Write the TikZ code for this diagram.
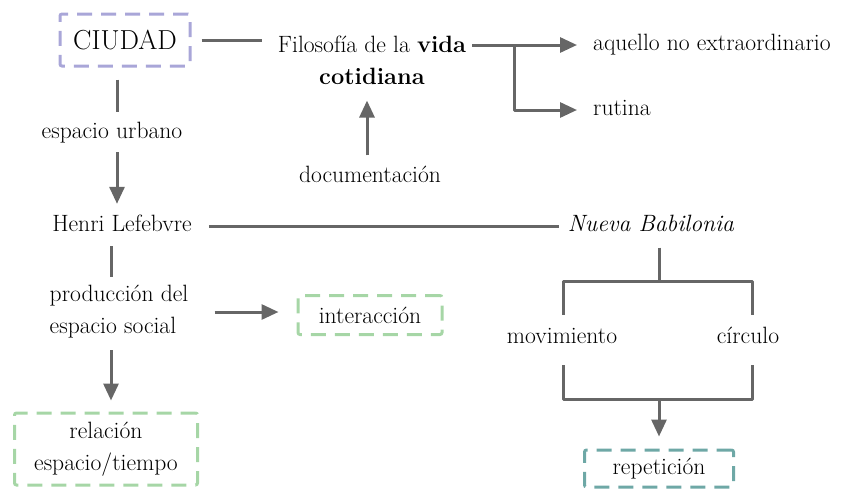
\documentclass[tikz,border=0pt]{standalone}
\usetikzlibrary{arrows.meta}
\definecolor{lncol}{HTML}{666666}
\definecolor{lav}{HTML}{A9A6D8}
\definecolor{grn}{HTML}{A6D6A6}
\definecolor{teal}{HTML}{6EA8A6}
\begin{document}
\begin{tikzpicture}[x=1pt,y=-1pt,
  conn/.style={draw=lncol, line width=3pt, line join=round},
  arr/.style={conn, -{Triangle[length=17pt,width=15pt]}},
  txt/.style={inner sep=0pt, font=\fontsize{23.6}{32}\selectfont, text=black},
  one/.style={txt, text height=16pt, text depth=5pt},
  dbox/.style={draw=#1, line width=3pt, dash pattern=on 15pt off 9pt,
    rounded corners=2pt, inner sep=0pt, align=center,
    font=\fontsize{23.6}{32}\selectfont, text=black},
]
\useasboundingbox (0,0) rectangle (848,488);

% nodes
\node[dbox=lav, minimum width=130pt, minimum height=52pt,
  font=\fontsize{27.5}{32}\selectfont] (ciudad) at (125,40) {CIUDAD};
\node[txt, align=center] (filo) at (372,60) {Filosofía de la \textbf{vida}\\\textbf{cotidiana}};
\node[one, anchor=west] (aquello) at (593,45) {aquello no extraordinario};
\node[one, anchor=west] (rutina) at (593,110) {rutina};
\node[one] (doc) at (370,177) {documentación};
\node[one] (urb) at (112,133) {espacio urbano};
\node[one] (henri) at (122,226) {Henri Lefebvre};
\node[one] (nueva) at (651,226) {\textit{Nueva Babilonia}};
\node[txt, align=left] (prod) at (119,312) {producción del\\espacio social};
\node[dbox=grn, minimum width=144pt, minimum height=39pt] (inter) at (370,315) {interacción};
\node[dbox=grn, minimum width=183pt, minimum height=72pt] (rel) at (106,449) {relación\\espacio/tiempo};
\node[one] (mov) at (562,338) {movimiento};
\node[one] (circ) at (748,338) {círculo};
\node[dbox=teal, minimum width=149pt, minimum height=37pt] (rep) at (659,468.5) {repetición};

% connectors top
\draw[conn] ([xshift=10pt]ciudad.east) -- ([xshift=-16pt]ciudad.east -| filo.west);
\draw[arr] ([xshift=6pt]filo.east |- aquello.west) -- ([xshift=-16pt]aquello.west);
\draw[arr] ([xshift=48pt]filo.east |- aquello.west) |- ([xshift=-16pt]rutina.west);
\draw[arr] ([xshift=-3pt,yshift=11pt]doc.north) -- ([xshift=-3pt,yshift=-16pt]doc.north |- filo.south);

% left column
\draw[conn] ([xshift=-8pt,yshift=-12pt]ciudad.south) -- ([xshift=5pt,yshift=10.5pt]urb.north);
\draw[arr] ([xshift=5pt,yshift=-8.5pt]urb.south) -- ([xshift=-5pt,yshift=11.5pt]henri.north);
\draw[conn] ([xshift=-11pt,yshift=-9.5pt]henri.south) -- ([xshift=-8pt,yshift=8pt]prod.north);
\draw[arr] ([xshift=26pt]prod.east) -- ([xshift=-18pt]prod.east -| inter.west);
\draw[arr] ([xshift=-8pt,yshift=-11.5pt]prod.south) -- ([xshift=5pt,yshift=11pt]rel.north);

% middle line
\draw[conn] ([xshift=17pt]henri.east) -- ([xshift=-9pt]henri.east -| nueva.west);

% right tree
\coordinate (jt) at (rep.north |- 0,281);
\coordinate (jb) at (rep.north |- 0,399);
\draw[conn] ([yshift=-11pt]nueva.south -| jt) -- (jt);
\draw[conn] ([xshift=1pt,yshift=12.5pt]mov.north) |- (jt) -| ([xshift=4pt,yshift=12.5pt]circ.north);
\draw[conn] ([xshift=1pt,yshift=-16.5pt]mov.south) |- (jb) -| ([xshift=4pt,yshift=-16.5pt]circ.south);
\draw[arr] (jb) -- ([yshift=12pt]rep.north);
\end{tikzpicture}
\end{document}
